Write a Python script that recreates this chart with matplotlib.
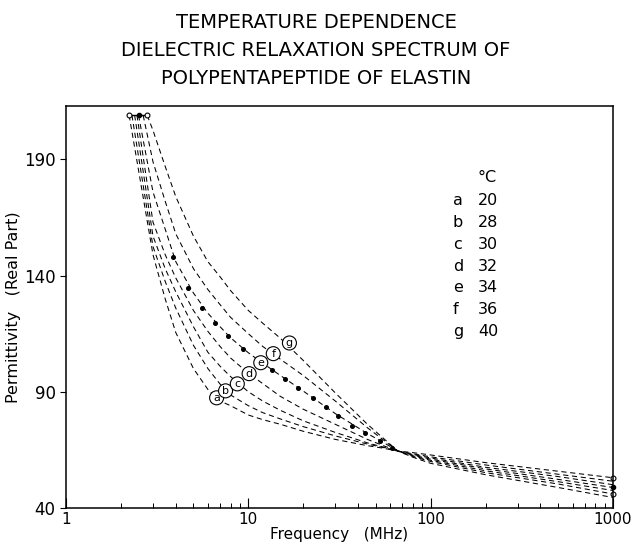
"""Temperature dependence of the dielectric relaxation spectrum of polypentapeptide of elastin."""

import matplotlib

matplotlib.use("Agg")
import matplotlib.pyplot as plt

# frequency grid (MHz) shared by all curves after their starting point
FREQ = [3, 3.5, 4, 5, 6, 7, 8, 10, 12, 15, 20, 30, 45, 55, 66, 80, 100, 200, 500, 1000]

# starting point of each curve at the top of the plot
START_FREQ = [2.22, 2.3, 2.38, 2.45, 2.5, 2.65, 2.79]
START_EPS = 209

CURVES = ["a", "b", "c", "d", "e", "f", "g"]
TEMPS = [20, 28, 30, 32, 34, 36, 40]

EPS_A = [149, 130, 115.5, 100, 91, 86, 84, 80, 78, 76, 73, 69.5, 66.8, 65.7, 64.5, 63.8,
         62.8, 59.5, 55.8, 53]
EPS_B = [152.5, 137.5, 126, 110, 100, 93.3, 88.6, 84, 81, 78.3, 75, 71, 67.5, 66, 64.5, 63.3,
         62, 58.5, 54.5, 51.5]
EPS_C = [157, 143, 133, 118, 107, 101, 96.5, 90, 86, 82, 77.5, 72.5, 68, 66.2, 64.5, 63,
         61.5, 57.5, 53.5, 50]
EPS_D = [163, 149, 139, 125, 116, 109.5, 104.5, 98, 93.5, 88, 82.5, 76, 69.5, 66.8, 64.5,
         62.7, 61, 56.8, 52.3, 48.8]
EPS_E = [176, 160, 146, 132.5, 123.8, 118, 113.2, 106.8, 102.3, 97, 90.3, 80.6, 72, 68.2,
         64.5, 62.4, 60.5, 56, 51.3, 47.5]
EPS_F = [189, 172, 158, 143, 134, 127.5, 122, 115, 109.5, 104, 97, 86, 74.5, 69.3, 64.5,
         62.1, 60, 55.2, 50.3, 46]
EPS_G = [202.5, 187, 174, 157, 146, 139.5, 133.5, 125, 119.5, 113, 103.5, 89.5, 76, 70,
         64.5, 61.8, 59.2, 54.3, 48.8, 44.5]

# measured points shown as dots on curve e
DOT_FREQ = [3.87, 4.67, 5.58, 6.58, 7.77, 9.37, 11.2, 13.4, 15.9, 18.8, 22.5, 26.5, 31.2,
            37.2, 43.9, 52.4, 61.7]
DOT_EPS = [148.2, 134.8, 126.2, 119.7, 114.1, 108.5, 103.8, 99.5, 95.6, 91.7, 87.4, 83.5,
           79.7, 75.3, 72.3, 68.9, 65.9]

# where the circled letters sit on the curves
LABEL_FREQ = [6.7, 7.5, 8.7, 10.1, 11.7, 13.7, 16.8]
LABEL_EPS = [87.4, 90.4, 93.4, 97.8, 102.5, 106.4, 111]

TITLE_LINES = ["TEMPERATURE DEPENDENCE", "DIELECTRIC RELAXATION SPECTRUM OF",
               "POLYPENTAPEPTIDE OF ELASTIN"]

plt.rcParams["font.family"] = "DejaVu Sans"

fig = plt.figure(figsize=(6.32, 5.45), dpi=100)
ax = fig.add_axes([0.1044, 0.068, 0.8656, 0.7375])

series = [EPS_A, EPS_B, EPS_C, EPS_D, EPS_E, EPS_F, EPS_G]
for start, eps in zip(START_FREQ, series):
    ax.plot([start] + FREQ, [START_EPS] + eps, color="black", lw=0.75,
            linestyle=(0, (5, 3.5)))

ax.plot(DOT_FREQ, DOT_EPS, linestyle="none", marker="o", ms=2.6, color="black")

# end markers: top-left bar and right-hand bar at 1000 MHz
ax.plot([START_FREQ[0], START_FREQ[-1]], [START_EPS, START_EPS], color="black", lw=1)
ax.plot([START_FREQ[0], START_FREQ[-1]], [START_EPS, START_EPS], "o", ms=3.5,
        mfc="white", mec="black", mew=0.8, clip_on=False)
ax.plot([START_FREQ[4]], [START_EPS], "o", ms=3, color="black")
ax.plot([FREQ[-1], FREQ[-1]], [EPS_A[-1], EPS_G[-1]], color="black", lw=1)
ax.plot([FREQ[-1], FREQ[-1]], [EPS_A[-1], EPS_F[-1]], "o", ms=3.5, mfc="white",
        mec="black", mew=0.8, clip_on=False)
ax.plot([FREQ[-1]], [EPS_D[-1]], "o", ms=3, color="black", clip_on=False)

for name, fx, fy in zip(CURVES, LABEL_FREQ, LABEL_EPS):
    ax.text(fx, fy, name, fontsize=8, ha="center", va="center",
            bbox={"boxstyle": "circle,pad=0.18", "facecolor": "white",
                  "edgecolor": "black", "linewidth": 0.8})

# temperature table
ax.text(0.753, 0.821, "°C", transform=ax.transAxes, fontsize=11.5, ha="left", va="center")
for index, (name, temp) in enumerate(zip(CURVES, TEMPS)):
    y = 0.766 - index * 0.0547
    ax.text(0.707, y, name, transform=ax.transAxes, fontsize=11.5, ha="left", va="center")
    ax.text(0.753, y, str(temp), transform=ax.transAxes, fontsize=11.5, ha="left",
            va="center")

ax.set_xscale("log")
ax.set_xlim(1, 1000)
ax.set_ylim(40, 213)
ax.set_xticks([1, 10, 100, 1000], ["1", "10", "100", "1000"])
ax.set_yticks([40, 90, 140, 190])
ax.tick_params(axis="x", which="major", direction="in", length=7, width=0.8,
               labelsize=11, pad=3)
ax.tick_params(axis="x", which="minor", direction="in", length=3.5, width=0.7)
ax.tick_params(axis="y", direction="out", length=4, width=0.8, labelsize=12)
for spine in ax.spines.values():
    spine.set_linewidth(1.1)

ax.set_xlabel("Frequency   (MHz)", fontsize=11, labelpad=0)
ax.set_ylabel("Permittivity   (Real Part)", fontsize=11.5, labelpad=2)

for index, line in enumerate(TITLE_LINES):
    fig.text(0.5, 0.9596 - index * 0.0514, line, ha="center", va="center", fontsize=14)

fig.savefig("out.png", dpi=100)
